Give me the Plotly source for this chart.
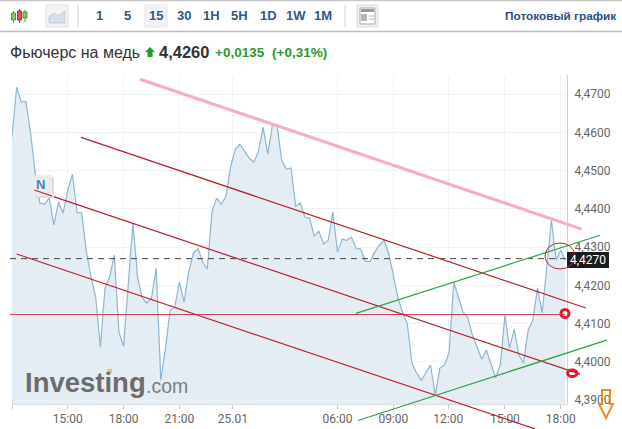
import plotly.graph_objects as go

# ---- data ----
prices = [4.4588,4.4718,4.4679,4.4681,4.4598,4.4493,4.4415,4.4412,4.4428,4.4358,
          4.4418,4.4389,4.4449,4.4491,4.4391,4.4389,4.4287,4.4222,4.4169,4.4039,
          4.4193,4.4222,4.4279,4.4078,4.4041,4.4214,4.4363,4.4222,4.4167,4.4154,
          4.4167,4.4245,4.3952,4.4036,4.4135,4.4143,4.4209,4.4156,4.4235,4.4284,
          4.4297,4.4261,4.4243,4.4392,4.4428,4.4412,4.4433,4.4509,4.4556,4.4569,
          4.4551,4.4533,4.4522,4.4551,4.4614,4.4543,4.4619,4.4619,4.4527,4.4504,
          4.4507,4.4407,4.4415,4.4378,4.4376,4.4329,4.4342,4.4308,4.4318,4.4392,
          4.4287,4.4321,4.4318,4.4326,4.4297,4.4295,4.4263,4.4263,4.4287,4.4305,
          4.4318,4.4284,4.4227,4.4167,4.4130,4.4101,4.3997,4.3971,4.3952,4.3973,
          4.3992,4.3913,4.3984,4.3992,4.4025,4.4209,4.4169,4.4130,4.4117,4.4070,
          4.4039,4.4007,4.4031,4.3997,4.3958,4.3992,4.4122,4.4036,4.4086,4.4018,
          4.3997,4.4083,4.4109,4.4193,4.4128,4.4248,4.4371,4.4266,4.4292,4.4266]
bar_index = list(range(len(prices)))
x_tick_pos = [0, 12, 24, 36, 47.5, 70, 82, 93.8, 106, 118]
x_tick_txt = ["", "15:00", "18:00", "21:00", "25.01", "06:00", "09:00", "12:00", "15:00", "18:00"]
y_tick_pos = [4.39, 4.40, 4.41, 4.42, 4.43, 4.44, 4.45, 4.46, 4.47]
y_tick_txt = ["4,3900", "4,4000", "4,4100", "4,4200", "4,4300", "4,4400", "4,4500", "4,4600", "4,4700"]
pink_x, pink_y = [27.53, 122.5], [4.4739, 4.4347]
red1_x, red1_y = [14.84, 123.4], [4.4587, 4.4141]
red2_x, red2_y = [4.8, 122.15], [4.4449, 4.3968]
red3_x, red3_y = [1.0, 112.47], [4.4282, 4.3825]
level_x, level_y = [-0.43, 118.9], [4.4124, 4.4124]
green1_x, green1_y = [73.98, 126.45], [4.4127, 4.4331]
green2_x, green2_y = [74.4, 127.9], [4.3847, 4.4057]
last_x, last_y = [-0.43, 119.3], [4.4270, 4.4270]
base_y = [4.3890] * len(prices)
buttons = ["1", "5", "15", "30", "1H", "5H", "1D", "1W", "1M"]
button_px = [99, 127, 156, 184, 211, 239, 268, 296, 323]

W, H = 622, 429
L, R, T, B = 12, 567, 75, 404
X0, X1 = 0, 119.35
Y0, Y1 = 4.3890, 4.4750
def PX(x): return x / W
def PY(y): return 1 - y / H
ux = (X1 - X0) / (R - L)
uy = (Y1 - Y0) / (B - T)

fig = go.Figure()
fig.add_trace(go.Scatter(x=bar_index, y=base_y, mode="lines", line=dict(width=0), hoverinfo="skip"))
fig.add_trace(go.Scatter(x=bar_index, y=prices, mode="lines", fill="tonexty", fillcolor="#e4edf3",
                         line=dict(color="#8fb6cf", width=1.2)))
def seg(x, y, color, width, dash="solid"):
    fig.add_trace(go.Scatter(x=x, y=y, mode="lines", xaxis="x2", yaxis="y2",
                             line=dict(color=color, width=width, dash=dash)))
seg(last_x, last_y, "#444444", 1, "6px,5px")
seg(level_x, level_y, "#d2445a", 1)
seg(red1_x, red1_y, "#b5202f", 1.2)
seg(red2_x, red2_y, "#b5202f", 1.2)
seg(red3_x, red3_y, "#c4202f", 1.2)
seg(green1_x, green1_y, "#35a043", 1.2)
seg(green2_x, green2_y, "#35a043", 1.2)
seg(pink_x, pink_y, "#f6abc6", 3)

shapes, ann = [], []
def rect(x0, y0, x1, y1, fill=None, line=None, lw=1):
    shapes.append(dict(type="rect", xref="paper", yref="paper", x0=PX(x0), x1=PX(x1), y0=PY(y0), y1=PY(y1),
                       fillcolor=fill or "rgba(0,0,0,0)", line=dict(color=line or "rgba(0,0,0,0)", width=lw if line else 0)))
def hline(x0, y0, x1, y1, color, lw=1):
    shapes.append(dict(type="line", xref="paper", yref="paper", x0=PX(x0), x1=PX(x1), y0=PY(y0), y1=PY(y1),
                       line=dict(color=color, width=lw)))
def path(pts, fill=None, line=None, lw=1, close=True):
    d = "M" + " L".join(f"{PX(a):.5f},{PY(b):.5f}" for a, b in pts) + (" Z" if close else "")
    shapes.append(dict(type="path", xref="paper", yref="paper", path=d, fillcolor=fill or "rgba(0,0,0,0)",
                       line=dict(color=line or "rgba(0,0,0,0)", width=lw if line else 0)))
def ell(x0, y0, x1, y1, color, lw):
    shapes.append(dict(type="circle", xref="paper", yref="paper", x0=PX(x0), x1=PX(x1), y0=PY(y0), y1=PY(y1),
                       line=dict(color=color, width=lw)))
def text(x, y, s, size, color, anchor="left", bold=False, family="Liberation Sans"):
    ann.append(dict(xref="paper", yref="paper", x=PX(x), y=PY(y), text=f"<b>{s}</b>" if bold else s, showarrow=False,
                    xanchor=anchor, yanchor="middle", font=dict(size=size, color=color, family=family),
                    borderpad=0, borderwidth=0))

# toolbar
hline(0, 0.5, 622, 0.5, "#c8c8c8", 1.5)
hline(0, 31.5, 622, 31.5, "#bdbdbd", 1.5)
hline(78, 5, 78, 27, "#d5d5d5"); hline(345, 5, 345, 27, "#d5d5d5")
rect(46, 5, 68, 27, "#f3f3f3", "#dddddd")
path([(49, 23), (49, 17), (54, 13), (58, 16), (65, 11), (65, 23)], "#d4e0ec", "#b3c6d8", 0.8)
rect(145, 5, 167, 27, "#f3f3f3", "#e2e2e2")
rect(357, 5, 378, 27, "#f0f0f0", "#dddddd")
rect(360, 8, 375, 24, "#ffffff", "#a9a9a9")
rect(361, 9, 374, 12, "#9a9a9a"); rect(361, 14, 367, 21, "#b5b5b5"); hline(369, 16, 374, 16, "#b5b5b5"); hline(369, 19, 374, 19, "#b5b5b5")
# candle icon
for cx, top, bot, b0, b1, col, fc in [(13.5, 11, 23, 13, 20, "#4e9a3c", "#8ac46e"), (19.5, 9, 23, 11, 20, "#b23030", "#e35050"), (25, 10, 22, 12, 18, "#4e9a3c", "#8ac46e")]:
    hline(cx, top, cx, bot, col)
    rect(cx - 2, b0, cx + 2, b1, fc, col)
for s, xp in zip(buttons, button_px):
    text(xp, 16, s, 13, "#2d5a88", "center", True)
text(616, 16, "Потоковый график", 11.8, "#2d4f80", "right", True)
# header
text(10, 52, "Фьючерс на медь", 16, "#333333")
path([(150, 47), (155, 52), (152.5, 52), (152.5, 57), (147.5, 57), (147.5, 52), (145, 52)], "#1f9e35")
text(159, 52, "4,4260", 16.5, "#333333", bold=True)
text(215, 52, "+0,0135", 13.5, "#2a9a2f", bold=True)
text(272, 52, "(+0,31%)", 13.5, "#2a9a2f", bold=True)
# badge
rect(35, 177, 54, 198, "#dddddd")
rect(33, 175, 52, 196, "#ececec")
text(40.5, 185, "N", 13, "#3f86c6", "center", True)
hline(34.3, 190, 52, 196, "#b5202f", 1.2)
# price label
path([(567, 252), (609, 252), (609, 268), (567, 268)], "#1c1c1c")
text(570, 260, "4,4270", 12, "#ffffff", family="Roboto")
# circles
ell(545, 243, 575, 269, "#b02a3a", 1)
ell(561, 309.5, 569, 317.5, "#dd1f30", 3)
ell(567.5, 370, 577, 376.5, "#dd1f30", 3)
# orange arrow
path([(602, 390), (610, 390), (610, 404), (613, 404), (606, 418), (599, 404), (602, 404)], None, "#ee8a2a", 2)
# watermark
text(25, 382, "Investing", 27.5, "#6c6c6c", bold=True)
text(146, 386, ".com", 19.5, "#7d7d7d")
rect(107, 369, 112, 373, "#edc27a")

fig.update_layout(
    width=W, height=H, margin=dict(l=0, r=0, t=0, b=0, autoexpand=False), showlegend=False,
    paper_bgcolor="#ffffff", plot_bgcolor="rgba(0,0,0,0)", shapes=shapes, annotations=ann,
    xaxis=dict(domain=[L / W, R / W], range=[X0, X1], tickmode="array", tickvals=x_tick_pos, ticktext=x_tick_txt,
               showgrid=True, gridcolor="#f1f4f6", gridwidth=1, zeroline=False, showline=True,
               linecolor="#dcdcdc", ticks="outside", ticklen=4, tickcolor="#cccccc",
               tickfont=dict(family="Roboto", size=12, color="#666666"), fixedrange=True),
    yaxis=dict(domain=[1 - B / H, 1 - T / H], range=[Y0, Y1], side="right", tickmode="array", tickvals=y_tick_pos, ticktext=y_tick_txt,
               showgrid=True, gridcolor="#f1f4f6", gridwidth=1, zeroline=False, showline=True,
               linecolor="#d0d0d0", ticks="outside", ticklen=4, tickcolor="rgba(0,0,0,0)",
               tickfont=dict(family="Roboto", size=12, color="#666666"), fixedrange=True),
    xaxis2=dict(domain=[0, 1], range=[X0 - L * ux, X1 + (W - R) * ux], visible=False, anchor="y2", fixedrange=True),
    yaxis2=dict(domain=[0, 1], range=[Y0 - (H - B) * uy, Y1 + T * uy], visible=False, anchor="x2", fixedrange=True),
)
fig.write_html("out.html", config=dict(displayModeBar=False),
               post_script="document.body.style.margin='0';document.body.style.overflow='hidden';")
